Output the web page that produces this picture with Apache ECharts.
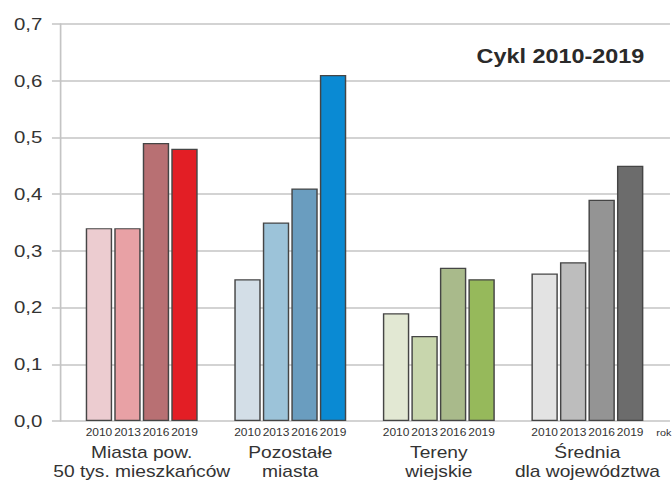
<!DOCTYPE html>
<html>
<head>
<meta charset="utf-8">
<script src="https://cdn.jsdelivr.net/npm/echarts@6/dist/echarts.min.js"></script>
<style>
  html, body { margin: 0; padding: 0; background: #fff; overflow: hidden; }
  /* the chart is laid out narrow and widened, giving the broad lettering of the print */
  #chart { width: 560px; height: 481px; transform: scaleX(1.2); transform-origin: 0 0; }
</style>
</head>
<body>
<div id="chart"></div>
<script>
// Groups along the x axis
const categories = [
  'Miasta pow.\n50 tys. mieszkańców',
  'Pozostałe\nmiasta',
  'Tereny\nwiejskie',
  'Średnia\ndla województwa'
];
// Survey years (one bar per year in each group)
const years = ['2010', '2013', '2016', '2019'];
// Values per year, in group order
const values2010 = [0.34, 0.25, 0.19, 0.26];
const values2013 = [0.34, 0.35, 0.15, 0.28];
const values2016 = [0.49, 0.41, 0.27, 0.39];
const values2019 = [0.48, 0.61, 0.25, 0.45];
const yearValues = [values2010, values2013, values2016, values2019];
// Y axis ticks
const yMin = 0, yMax = 0.7, yStep = 0.1;
const titleText = 'Cykl 2010-2019';
const unitLabel = 'rok';

// Colour ramps: one per group, light (2010) to strong (2019)
const palette = [
  ['#ecccd0', '#e8a1a5', '#b87073', '#e31e25'],
  ['#d3dee7', '#9cc3d9', '#6a9dbf', '#0a8ad3'],
  ['#e2e8d3', '#c8d6ad', '#a9ba8b', '#96b95b'],
  ['#e3e3e3', '#bdbdbd', '#949494', '#6c6c6c']
];

const FONT = '"Liberation Sans", Arial, sans-serif';
const GRID_COLOR = '#c4c4c4';

const series = years.map((yr, yi) => ({
  name: yr,
  type: 'bar',
  xAxisIndex: 0,
  yAxisIndex: 0,
  barWidth: 22,
  barGap: '8%',
  data: yearValues[yi].map((v, gi) => ({
    value: v,
    itemStyle: { color: palette[gi][yi] }
  })),
  itemStyle: { borderColor: '#454545', borderWidth: 1.2 },
  label: {
    show: true,
    position: 'bottom',
    distance: 6,
    formatter: yr,
    fontFamily: FONT,
    fontSize: 10,
    color: '#333'
  },
  emphasis: { disabled: true },
  animation: false
}));

const chart = echarts.init(document.getElementById('chart'), null, { renderer: 'svg' });
chart.setOption({
  animation: false,
  backgroundColor: '#fff',
  title: {
    text: titleText,
    right: 18,
    top: 42,
    textStyle: { fontFamily: FONT, fontSize: 19.5, fontWeight: 'bold', color: '#2a2a2a' }
  },
  grid: [
    { left: 56.2, right: 8.6, top: 24, bottom: 60, outerBoundsMode: 'none', containLabel: false },
    { left: 43.3, right: 1.7, top: 24, bottom: 60, outerBoundsMode: 'none', containLabel: false }
  ],
  xAxis: [
    {
      type: 'category',
      gridIndex: 0,
      data: categories,
      axisLine: { show: false },
      axisTick: { show: false },
      axisLabel: {
        margin: 21.5,
        fontFamily: FONT,
        fontSize: 16,
        lineHeight: 19.5,
        color: '#333',
        interval: 0,
        hideOverlap: false
      },
      name: unitLabel,
      nameLocation: 'end',
      nameGap: -4.5,
      nameTextStyle: {
        fontFamily: FONT, fontSize: 9, color: '#333',
        align: 'left', verticalAlign: 'top', padding: [7, 0, 0, 0]
      }
    },
    { type: 'value', gridIndex: 1, min: 0, max: 1, show: false }
  ],
  yAxis: [
    {
      type: 'value',
      gridIndex: 0,
      min: yMin, max: yMax, interval: yStep,
      offset: 6.2,
      axisLine: { show: true, lineStyle: { color: GRID_COLOR, width: 1.4 } },
      axisTick: { show: false },
      axisLabel: { show: false },
      splitLine: { show: false }
    },
    {
      type: 'value',
      gridIndex: 1,
      min: yMin, max: yMax, interval: yStep,
      axisLine: { show: false },
      axisTick: { show: false },
      splitLine: { show: true, lineStyle: { color: GRID_COLOR, width: 1.5 } },
      axisLabel: {
        margin: 8,
        fontFamily: FONT,
        fontSize: 17,
        color: '#333',
        formatter: v => v.toFixed(1).replace('.', ',')
      }
    }
  ],
  series: series
});
</script>
</body>
</html>
